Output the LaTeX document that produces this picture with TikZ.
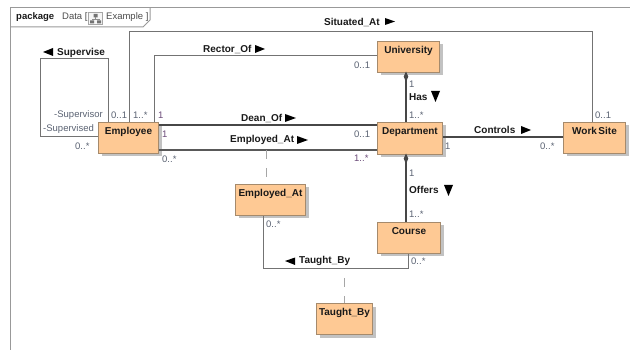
\documentclass[tikz,border=0pt]{standalone}
\usepackage{fontspec}
\setmainfont{Liberation Sans}
\usetikzlibrary{shadows}
\definecolor{boxfill}{HTML}{FEC994}
\definecolor{boxline}{HTML}{A58A6C}
\definecolor{mult}{HTML}{5A6272}
\definecolor{multp}{HTML}{6A4A78}
\newcommand{\boxtxt}[2][3.5pt]{\smash{\raisebox{#1}{#2}}}
\tikzset{
  umlbox/.style={draw=boxline,line width=1pt,fill=boxfill,anchor=north west,inner sep=0pt,
    font=\fontsize{10}{12}\selectfont\bfseries,text=black!90,
    drop shadow={shadow xshift=3pt,shadow yshift=-3pt,fill=black!24,opacity=1}},
  thin assoc/.style={draw=black!55,line width=1pt},
  thick assoc/.style={draw=black!72,line width=1.8pt},
  dep/.style={draw=black!35,line width=1pt,dash pattern=on 9pt off 9pt},
  rel/.style={anchor=west,inner sep=0pt,font=\fontsize{10}{12}\selectfont\bfseries,text=black!90},
  mul/.style={anchor=west,inner sep=0pt,font=\fontsize{9.5}{11}\selectfont,text=mult},
  mup/.style={mul,text=multp},
  frameline/.style={draw=black!40,line width=1pt},
}
\begin{document}
\begin{tikzpicture}[x=1pt,y=-1pt]
\useasboundingbox (0,0) rectangle (630,350);
% frame
\coordinate (fa) at (10,350);
\coordinate (fb) at (10,8);
\coordinate (fc) at (630,8);
\coordinate (fd) at (10,27);
\coordinate (fe) at (143,27);
\coordinate (ff) at (150,20);
\coordinate (fg) at (150,8);
\draw[frameline] (fa) -- (fb) -- (fc);
\draw[frameline] (fd) -- (fe) -- (ff) -- (fg);
\node[rel,font=\fontsize{9.5}{11}\selectfont\bfseries] (pkg) at (16,17) {package};
\node[mul,text=black!70] (pkgname) at (62,17) {Data [};
\node[draw=black!35,fill=black!4,minimum width=14pt,minimum height=12pt,inner sep=0pt,anchor=north west] (pkgicon) at (88,12) {};
\fill[black!55] (93.5,14) rectangle (97.5,17.5) (90,20.5) rectangle (94,23.5) (97,20.5) rectangle (101,23.5);
\draw[black!45,line width=.5pt] (95.5,17.5) -- (95.5,19) (92,20.5) -- (92,19) -- (99,19) -- (99,20.5);
\node[mul,text=black!70] (pkgex) at (106,17) {Example ]};
% nodes
\node[umlbox,minimum width=60pt,minimum height=31pt] (emp) at (98,122) {\boxtxt{Employee}};
\node[umlbox,minimum width=62pt,minimum height=31pt] (uni) at (377,41) {\boxtxt{University}};
\node[umlbox,minimum width=65pt,minimum height=32pt] (dep) at (377,122) {\boxtxt{Department}};
\node[umlbox,minimum width=62pt,minimum height=31pt] (ws) at (563,122) {\boxtxt{Work\hspace{1.5pt}Site}};
\node[umlbox,minimum width=70pt,minimum height=31pt] (ea) at (235,184) {\boxtxt{Employed\_At}};
\node[umlbox,minimum width=63pt,minimum height=31pt] (crs) at (377,222) {\boxtxt{Course}};
\node[umlbox,minimum width=56pt,minimum height=31pt] (tb) at (316,303) {\boxtxt{Taught\_By}};
% route points
\coordinate (sa) at (129,32);
\coordinate (sb) at (592,32);
\coordinate (ra) at (154,56);
\coordinate (pa) at (108,59);
\coordinate (pb) at (40,59);
\coordinate (pc) at (40,137);
\coordinate (da) at (266,150);
\coordinate (ta) at (263,269);
\coordinate (tb1) at (408,269);
\coordinate (tm) at (344,269);
\coordinate (hs) at (406,100);
\coordinate (dy) at (300,125);
\coordinate (ey) at (300,150);
\coordinate (cy) at (500,137);
% connectors
\draw[thin assoc] (emp.north -| sa) -- (sa) -- (sb) -- (ws.north -| sb);
\draw[thin assoc] (emp.north -| ra) -- (ra) -- (uni.west |- ra);
\draw[thin assoc] (emp.north -| pa) -- (pa) -- (pb) -- (pc) -- (emp.west |- pc);
\draw[thick assoc] (emp.east |- dy) -- (dep.west |- dy);
\draw[thin assoc,line width=1.2pt,draw=black!65] (emp.east |- ey) -- (dep.west |- ey);
\draw[thick assoc,line width=1.6pt] (dep.east |- cy) -- (ws.west |- cy);
\draw[thick assoc] (uni.south -| hs) ++(0,5) -- (dep.north -| hs);
\fill[black!72] (406,71.5) -- (408.3,76.5) -- (406,82) -- (403.7,76.5) -- cycle;
\draw[thick assoc] (dep.south -| hs) ++(0,5) -- (crs.north -| hs);
\fill[black!72] (406,153.5) -- (408.3,158.5) -- (406,164) -- (403.7,158.5) -- cycle;
\draw[thin assoc] (ea.south -| ta) -- (ta) -- (tb1) -- (crs.south -| tb1);
\draw[dep] (da) -- (ea.north -| da);
\draw[dep] (tm) ++(0,9) -- (tb.north -| tm);
% association labels
\node[rel] (lsup) at (57,53) {Supervise};
\fill[black] (43,52) -- (53,48) -- (53,56) -- cycle;
\node[rel] (lsit) at (324,22) {Situated\_At};
\fill[black] (385,18) -- (395,21.5) -- (385,25) -- cycle;
\node[rel] (lrec) at (203,49) {Rector\_Of};
\fill[black] (255,45) -- (265,49) -- (255,53) -- cycle;
\node[rel] (ldean) at (241,118) {Dean\_Of};
\fill[black] (285,114) -- (296,118) -- (285,122) -- cycle;
\node[rel] (lemp) at (230,140) {Employed\_At};
\fill[black] (297,136) -- (308,140) -- (297,144) -- cycle;
\node[rel] (lhas) at (409,97) {Has};
\fill[black] (431,91) -- (440,91) -- (435.5,102) -- cycle;
\node[rel] (loff) at (409,190) {Offers};
\fill[black] (444,185) -- (453,185) -- (448.5,196) -- cycle;
\node[rel] (lctl) at (474,130) {Controls};
\fill[black] (521,126) -- (531,130) -- (521,134) -- cycle;
\node[rel] (ltau) at (299,261) {Taught\_By};
\fill[black] (285,261) -- (295,257.5) -- (295,265) -- cycle;
% multiplicities
\node[mul] (m1) at (54,115) {-Supervisor};
\node[mul] (m2) at (43,129) {-Supervised};
\node[mul] (m3) at (75,146) {0..*};
\node[mul] (m4) at (111,115) {0..1};
\node[mul] (m5) at (133,115) {1..*};
\node[mup] (m6) at (158,115) {1};
\node[mup] (m7) at (162,134) {1};
\node[mul] (m8) at (162,159) {0..*};
\node[mul] (m9) at (354,65) {0..1};
\node[mul] (m10) at (409,84) {1};
\node[mul] (m11) at (409,115) {1..*};
\node[mul] (m12) at (354,134) {0..1};
\node[mup] (m13) at (354,158) {1..*};
\node[mul] (m14) at (445,146) {1};
\node[mul] (m15) at (540,146) {0..*};
\node[mul] (m16) at (595,115) {0..1};
\node[mul] (m17) at (409,173) {1};
\node[mul] (m18) at (409,214) {1..*};
\node[mul] (m19) at (266,224) {0..*};
\node[mul] (m20) at (411,261) {0..*};
\end{tikzpicture}
\end{document}
